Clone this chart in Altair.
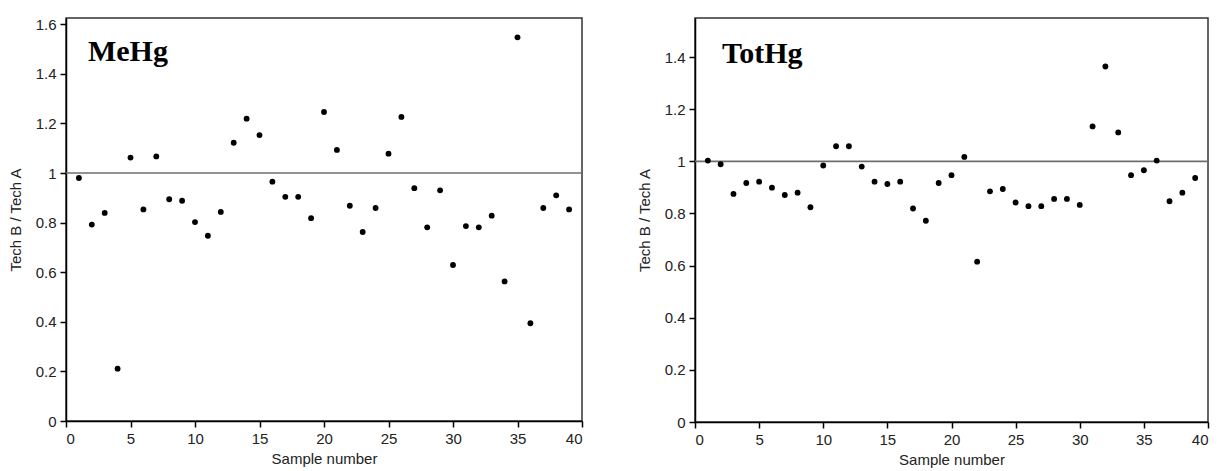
import altair as alt
import pandas as pd

samples = list(range(1, 40))

mehg = [0.98, 0.792, 0.839, 0.211, 1.062, 0.853, 1.067, 0.894, 0.888, 0.802,
        0.747, 0.843, 1.122, 1.219, 1.153, 0.965, 0.904, 0.904, 0.818, 1.246,
        1.093, 0.868, 0.762, 0.859, 1.078, 1.226, 0.939, 0.781, 0.930, 0.629,
        0.786, 0.781, 0.828, 0.563, 1.547, 0.394, 0.859, 0.910, 0.853]

tothg = [1.003, 0.989, 0.875, 0.917, 0.922, 0.899, 0.871, 0.880, 0.824, 0.984,
         1.058, 1.058, 0.980, 0.922, 0.913, 0.922, 0.819, 0.772, 0.917, 0.947,
         1.017, 0.615, 0.885, 0.894, 0.842, 0.828, 0.828, 0.856, 0.856, 0.833,
         1.134, 1.364, 1.111, 0.947, 0.966, 1.003, 0.847, 0.880, 0.936]

x_ticks = [0, 5, 10, 15, 20, 25, 30, 35, 40]
left_y_ticks = [0, 0.2, 0.4, 0.6, 0.8, 1.0, 1.2, 1.4, 1.6]
right_y_ticks = [0, 0.2, 0.4, 0.6, 0.8, 1.0, 1.2, 1.4]

ref_value = 1.0


def panel(values, label, label_x, label_y, y_max, y_ticks, width, height):
    df = pd.DataFrame({"sample": samples, "ratio": values})
    x = alt.X("sample:Q", title="Sample number",
              scale=alt.Scale(domain=[0, 40], nice=False, zero=False),
              axis=alt.Axis(values=x_ticks, format="d"))
    y = alt.Y("ratio:Q", title="Tech B / Tech A",
              scale=alt.Scale(domain=[0, y_max], nice=False),
              axis=alt.Axis(values=y_ticks, format=".1~f"))
    pts = alt.Chart(df).mark_circle(color="black", opacity=1, size=34).encode(x=x, y=y)
    rule = alt.Chart(pd.DataFrame({"ref": [ref_value]})).mark_rule(
        color="#6e6e6e", strokeWidth=1.6).encode(y=alt.Y("ref:Q"))
    txt = alt.Chart(pd.DataFrame({"lx": [label_x], "ly": [label_y], "t": [label]})).mark_text(
        font="Liberation Serif", fontWeight="bold", fontSize=30, align="left",
        baseline="alphabetic", color="black").encode(
        x=alt.X("lx:Q"), y=alt.Y("ly:Q"), text="t:N")
    return alt.layer(rule, pts, txt).properties(width=width, height=height)


left = panel(mehg, "MeHg", 1.7, 1.453, 1.625, left_y_ticks, 516, 403)
right = panel(tothg, "TotHg", 2.1, 1.378, 1.55, right_y_ticks, 513, 404)

chart = alt.hconcat(left, right, spacing=52).properties(
    padding={"left": 7, "top": 16, "right": 5, "bottom": 0}
).configure_view(
    stroke="#333", strokeWidth=1.5
).configure_axis(
    grid=False,
    labelFont="Liberation Sans", labelFontSize=15, labelColor="#222",
    titleFont="Liberation Sans", titleFontSize=15, titleColor="#222",
    titleFontWeight="normal",
    domainColor="black", domainWidth=1.5,
    tickColor="black", tickWidth=1.5, tickSize=6, labelPadding=4,
).configure_axisY(titlePadding=12).configure_axisX(titlePadding=5)

chart.save("out.html", embed_options={"renderer": "svg", "actions": False})
